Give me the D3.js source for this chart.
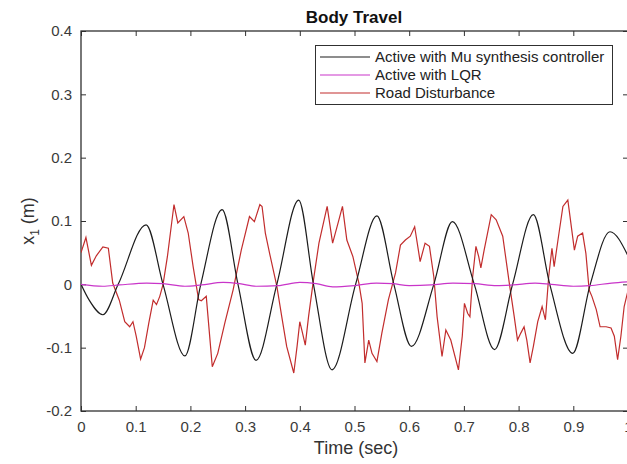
<!DOCTYPE html>
<html>
<head>
<meta charset="utf-8">
<script src="https://cdn.jsdelivr.net/npm/d3@7"></script>
<style>
  body { margin: 0; background: #fff; }
  text { font-family: "Liberation Sans", Arial, sans-serif; }
</style>
</head>
<body>
<div id="graph"></div>
<script>
//series: time (sec) and body travel x1 (m)
let muTime = [0, 0.015, 0.040, 0.068, 0.119, 0.150, 0.190, 0.219, 0.258, 0.287, 0.320, 0.358, 0.398, 0.425, 0.459,
  0.502, 0.541, 0.572, 0.604, 0.645, 0.679, 0.719, 0.756, 0.789, 0.827, 0.857, 0.899, 0.931, 0.967, 1.0];
let muValues = [0, -0.025, -0.048, 0, 0.094, 0, -0.113, 0, 0.118, 0, -0.120, 0, 0.133, 0, -0.135,
  0, 0.108, 0, -0.098, 0, 0.099, 0, -0.103, 0, 0.110, 0, -0.109, 0, 0.083, 0.045];

let lqrTime = [0, 0.04, 0.07, 0.12, 0.15, 0.19, 0.22, 0.26, 0.29, 0.32, 0.36, 0.40, 0.43, 0.46, 0.50,
  0.54, 0.57, 0.60, 0.64, 0.68, 0.72, 0.76, 0.79, 0.83, 0.86, 0.90, 0.93, 0.97, 1.0];
let lqrValues = [0, -0.003, -0.001, 0.002, 0.001, -0.003, -0.001, 0.003, 0.001, -0.003, -0.002, 0.003, 0.001, -0.004, -0.002,
  0.002, 0.001, -0.002, -0.001, 0.002, 0.001, -0.002, -0.001, 0.002, 0, -0.003, -0.002, 0.002, 0.004];

let roadTime = [0, 0.009, 0.019, 0.028, 0.040, 0.050, 0.058, 0.070, 0.080, 0.089, 0.095, 0.101, 0.109, 0.116, 0.124,
  0.132, 0.138, 0.144, 0.150, 0.158, 0.170, 0.177, 0.188, 0.196, 0.205, 0.215, 0.220, 0.229, 0.240, 0.250,
  0.263, 0.278, 0.293, 0.308, 0.317, 0.327, 0.331, 0.337, 0.346, 0.358, 0.367, 0.376, 0.389, 0.395, 0.400,
  0.405, 0.410, 0.416, 0.425, 0.435, 0.450, 0.460, 0.470, 0.478, 0.486, 0.497, 0.508, 0.514, 0.519, 0.526,
  0.532, 0.541, 0.550, 0.562, 0.575, 0.584, 0.593, 0.602, 0.610, 0.620, 0.629, 0.637, 0.645, 0.651, 0.660,
  0.667, 0.676, 0.690, 0.697, 0.701, 0.707, 0.711, 0.716, 0.722, 0.727, 0.731, 0.737, 0.750, 0.759, 0.771,
  0.783, 0.792, 0.798, 0.804, 0.810, 0.815, 0.821, 0.827, 0.835, 0.843, 0.849, 0.855, 0.861, 0.865, 0.872,
  0.881, 0.890, 0.894, 0.902, 0.908, 0.917, 0.923, 0.929, 0.934, 0.942, 0.949, 0.960, 0.969, 0.975, 0.981,
  0.987, 0.993, 1.0];
let roadValues = [0.050, 0.074, 0.030, 0.045, 0.059, 0.057, 0.002, -0.025, -0.059, -0.067, -0.059, -0.082, -0.118, -0.100, -0.061,
  -0.025, -0.032, -0.019, 0.000, 0.044, 0.126, 0.097, 0.107, 0.081, 0.028, -0.024, -0.026, -0.019, -0.130, -0.109,
  -0.061, -0.009, 0.054, 0.107, 0.099, 0.126, 0.123, 0.081, 0.044, -0.003, -0.051, -0.098, -0.140, -0.098, -0.059,
  -0.077, -0.096, -0.051, 0.007, 0.065, 0.123, 0.065, 0.097, 0.123, 0.070, 0.044, 0.002, -0.030, -0.124, -0.088,
  -0.109, -0.122, -0.077, -0.024, 0.018, 0.062, 0.070, 0.076, 0.091, 0.036, 0.065, 0.060, 0.012, -0.051, -0.114,
  -0.072, -0.088, -0.135, -0.082, -0.030, -0.046, -0.051, 0.012, 0.060, 0.044, 0.026, 0.054, 0.110, 0.102, 0.076,
  0.002, -0.051, -0.088, -0.077, -0.067, -0.088, -0.124, -0.098, -0.059, -0.035, -0.056, 0.012, 0.057, 0.028, 0.070,
  0.123, 0.133, 0.107, 0.054, 0.076, 0.081, 0.049, -0.009, -0.019, -0.040, -0.067, -0.067, -0.069, -0.082, -0.119,
  -0.082, -0.035, -0.010];

//tick labels
let xTicks = [0, 0.1, 0.2, 0.3, 0.4, 0.5, 0.6, 0.7, 0.8, 0.9, 1];
let yTicks = [-0.2, -0.1, 0, 0.1, 0.2, 0.3, 0.4];
let legendNames = ["Active with Mu synthesis controller", "Active with LQR", "Road Disturbance"];
let legendColors = ["#1c1c1c", "#c935c9", "#c22d2d"];

// dimensions: the axes box runs a pixel past the right edge of the window
let svgWidth = 627, svgHeight = 464;
let margin = { top: 31, left: 81 },
  width = 547,
  height = 380;

let svg = d3
  .select("#graph")
  .append("svg")
  .attr("width", svgWidth)
  .attr("height", svgHeight);

let x = d3.scaleLinear().domain([0, 1]).range([margin.left, margin.left + width]);
let y = d3.scaleLinear().domain([-0.2, 0.4]).range([margin.top + height, margin.top]);

//clip for the curves
svg.append("clipPath").attr("id", "plotClip")
  .append("rect")
  .attr("x", margin.left).attr("y", margin.top)
  .attr("width", width).attr("height", height);

//axes: ticks point inward on all four sides like matlab, plain hyphen for minus
let axisColor = "#303030";
let fmt = d => String(d);
function styleAxis(g, hideText) {
  g.select(".domain").remove();
  g.selectAll(".tick line").attr("stroke", axisColor).attr("stroke-width", 1);
  g.selectAll(".tick text")
    .attr("fill", "#3a3a3a")
    .style("font-size", "15px");
  if (hideText) g.selectAll(".tick text").remove();
}

svg.append("g")
  .attr("transform", `translate(0,${margin.top + height})`)
  .call(d3.axisBottom(x).tickValues(xTicks).tickSize(-5).tickPadding(10).tickFormat(fmt))
  .call(g => styleAxis(g, false));

svg.append("g")
  .attr("transform", `translate(0,${margin.top})`)
  .call(d3.axisTop(x).tickValues(xTicks).tickSize(-5))
  .call(g => styleAxis(g, true));

svg.append("g")
  .attr("transform", `translate(${margin.left},0)`)
  .call(d3.axisLeft(y).tickValues(yTicks).tickSize(-5).tickPadding(9).tickFormat(fmt))
  .call(g => styleAxis(g, false));

svg.append("g")
  .attr("transform", `translate(${margin.left + width},0)`)
  .call(d3.axisRight(y).tickValues(yTicks).tickSize(-5))
  .call(g => styleAxis(g, true));

//box
svg.append("rect")
  .attr("x", margin.left).attr("y", margin.top)
  .attr("width", width).attr("height", height)
  .attr("fill", "none")
  .attr("stroke", axisColor)
  .attr("stroke-width", 1.3);

//curves
function addLine(times, values, color, curve) {
  let pts = times.map((t, i) => [t, values[i]]);
  svg.append("path")
    .datum(pts)
    .attr("clip-path", "url(#plotClip)")
    .attr("fill", "none")
    .attr("stroke", color)
    .attr("stroke-width", 1.2)
    .attr("d", d3.line().x(d => x(d[0])).y(d => y(d[1])).curve(curve));
}
addLine(roadTime, roadValues, legendColors[2], d3.curveLinear);
addLine(muTime, muValues, legendColors[0], d3.curveMonotoneX);
addLine(lqrTime, lqrValues, legendColors[1], d3.curveMonotoneX);

//title and axis labels
svg.append("text")
  .attr("x", 354).attr("y", 23)
  .attr("text-anchor", "middle")
  .style("font-size", "17px").style("font-weight", "bold")
  .attr("fill", "#111")
  .text("Body Travel");

svg.append("text")
  .attr("x", 356).attr("y", 454)
  .attr("text-anchor", "middle")
  .style("font-size", "18px")
  .attr("fill", "#333")
  .text("Time (sec)");

let yLab = svg.append("text")
  .attr("transform", `translate(34,${margin.top + height / 2}) rotate(-90)`)
  .attr("text-anchor", "middle")
  .style("font-size", "18px")
  .attr("fill", "#333");
yLab.append("tspan").text("x");
yLab.append("tspan").attr("dy", 5).style("font-size", "12px").text("1");
yLab.append("tspan").attr("dy", -5).text(" (m)");

//legend
let legend = svg.append("g");
legend.append("rect")
  .attr("x", 315.5).attr("y", 45.5)
  .attr("width", 297).attr("height", 59)
  .attr("fill", "#fff")
  .attr("stroke", axisColor)
  .attr("stroke-width", 1);

legendNames.forEach((name, i) => {
  let ly = 57 + i * 18;
  legend.append("line")
    .attr("x1", 320).attr("x2", 370)
    .attr("y1", ly).attr("y2", ly)
    .attr("stroke", legendColors[i])
    .attr("stroke-width", 1.2);
  legend.append("text")
    .attr("x", 375).attr("y", ly + 5)
    .style("font-size", "15px")
    .attr("fill", "#222")
    .text(name);
});
</script>
</body>
</html>
